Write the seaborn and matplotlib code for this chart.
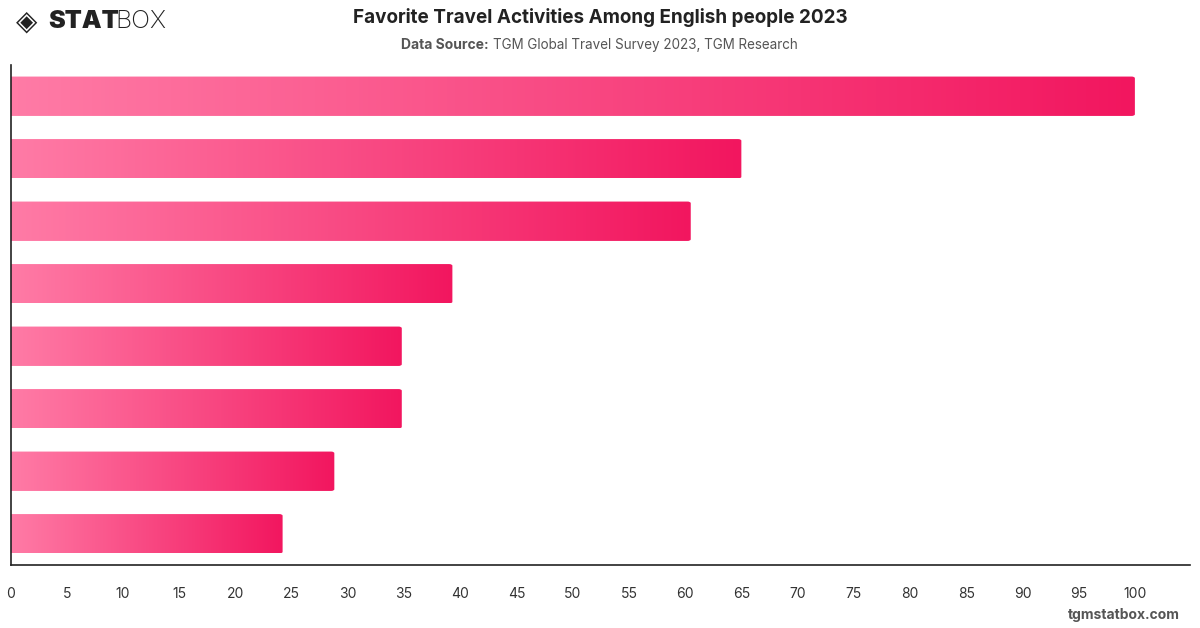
import numpy as np
import pandas as pd
import matplotlib.pyplot as plt
import seaborn as sns
from matplotlib.patches import FancyBboxPatch
from matplotlib.colors import LinearSegmentedColormap

# values (category labels are not shown in the chart)
activities = ['A1', 'A2', 'A3', 'A4', 'A5', 'A6', 'A7', 'A8']
shares = [100, 65, 60.5, 39.3, 34.8, 34.8, 28.8, 24.2]
x_ticks = list(range(0, 105, 5))

df = pd.DataFrame({'activity': activities, 'share': shares})

sns.set_theme(style='white')
plt.rcParams['font.family'] = ['Inter', 'DejaVu Sans']

fig = plt.figure(figsize=(12, 6.28), dpi=100)
ax = fig.add_axes([0.00875, 0.1003, 0.9829, 0.7962])

sns.barplot(data=df, x='share', y='activity', orient='h', width=0.63,
            color='#f2165f', ax=ax)

# gradient fill for each bar, light pink -> deep pink, clipped to a rounded box
cmap = LinearSegmentedColormap.from_list('pink', ['#ff7ba6', '#f2165f'])
grad = np.linspace(0, 1, 256).reshape(1, -1)
for p in list(ax.patches):
    x0, y0 = p.get_x(), p.get_y()
    w, h = p.get_width(), p.get_height()
    p.set_visible(False)
    box = FancyBboxPatch((x0 - 1.5, y0), w + 1.5, h,
                         boxstyle='round,pad=0,rounding_size=0.3',
                         mutation_aspect=0.09,
                         facecolor='none', edgecolor='none')
    ax.add_patch(box)
    im = ax.imshow(grad, cmap=cmap, aspect='auto', interpolation='bilinear',
                   extent=(x0, x0 + w, y0 + h, y0), zorder=2)
    im.set_clip_path(box)

ax.set_xlim(0, 104.9)
ax.set_ylim(7.5, -0.5)
ax.set_xticks(x_ticks)
ax.set_xticklabels([str(t) for t in x_ticks], fontsize=10, color='#333333')
ax.set_yticks([])
ax.set_xlabel('')
ax.set_ylabel('')
ax.tick_params(axis='x', length=0, pad=16)
for side in ['top', 'right']:
    ax.spines[side].set_visible(False)
for side in ['left', 'bottom']:
    ax.spines[side].set_color('#222222')
    ax.spines[side].set_linewidth(1.2)

fig.text(0.5, 0.972, 'Favorite Travel Activities Among English people 2023',
         ha='center', va='center', fontsize=13.6, fontweight='bold', color='#222222')
fig.text(0.334, 0.929, 'Data Source:', ha='left', va='center',
         fontsize=10, fontweight='bold', color='#555555')
fig.text(0.411, 0.929, 'TGM Global Travel Survey 2023, TGM Research',
         ha='left', va='center', fontsize=9.7, color='#555555')

# logo
fig.text(0.013, 0.966, '◈', ha='left', va='center', fontsize=20,
         color='#222222', family=['DejaVu Sans'])
fig.text(0.04, 0.966, 'STAT', ha='left', va='center', fontsize=18,
         fontweight='black', color='#222222')
fig.text(0.0965, 0.966, 'BOX', ha='left', va='center', fontsize=18,
         fontweight='light', color='#222222')

fig.text(0.983, 0.021, 'tgmstatbox.com', ha='right', va='center', fontsize=10,
         fontweight='bold', color='#555555')

fig.savefig('out.png', dpi=100)
